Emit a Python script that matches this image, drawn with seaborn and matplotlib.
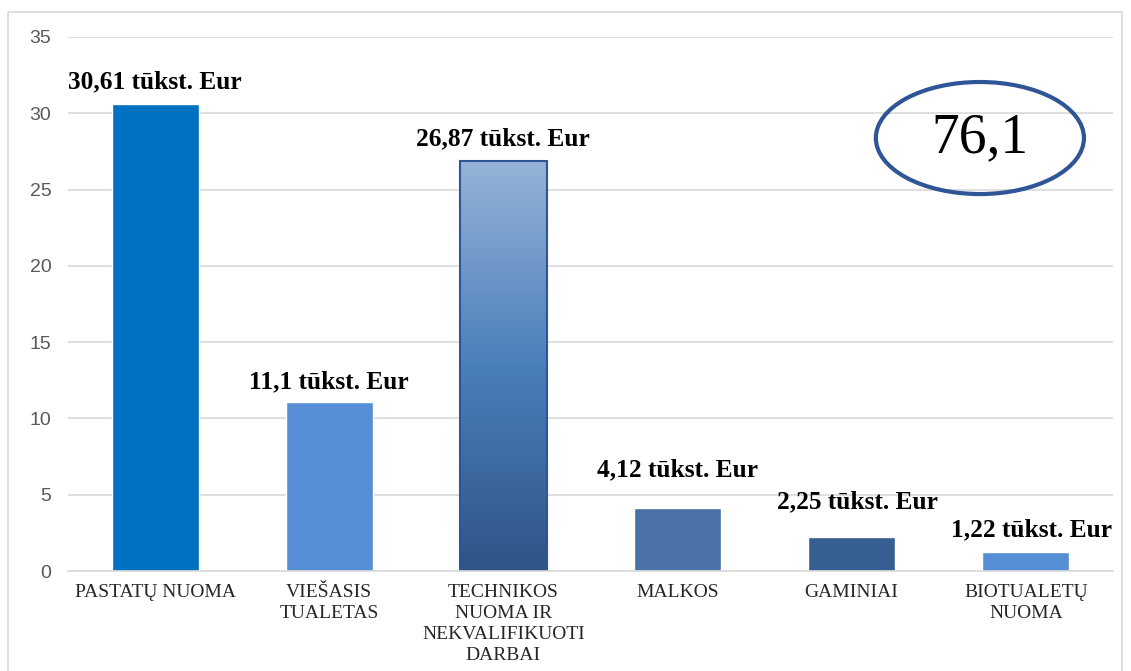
import matplotlib
matplotlib.use("Agg")
import matplotlib.pyplot as plt
import seaborn as sns
import numpy as np
from matplotlib.patches import Ellipse, Rectangle
import matplotlib.colors as mcolors

categories = ["PASTATŲ NUOMA", "VIEŠASIS\nTUALETAS", "TECHNIKOS\nNUOMA IR\nNEKVALIFIKUOTI\nDARBAI",
              "MALKOS", "GAMINIAI", "BIOTUALETŲ\nNUOMA"]
values = [30.61, 11.1, 26.87, 4.12, 2.25, 1.22]
value_labels = ["30,61 tūkst. Eur", "11,1 tūkst. Eur", "26,87 tūkst. Eur",
                "4,12 tūkst. Eur", "2,25 tūkst. Eur", "1,22 tūkst. Eur"]
total_label = "76,1"
yticks = [0, 5, 10, 15, 20, 25, 30, 35]

bar_colors = ["#0070C0", "#558ED5", "#4F81BD", "#4A72A6", "#355F91", "#558ED5"]

sns.set_theme(style="white")
plt.rcParams['font.family'] = ['Liberation Sans', 'DejaVu Sans']

fig = plt.figure(figsize=(11.31, 6.71), dpi=100)
ax = fig.add_axes([0.0601, 0.149, 0.9239, 0.7959])

sns.barplot(x=categories, y=values, hue=categories, palette=bar_colors,
            legend=False, width=0.5, ax=ax, saturation=1)

ax.set_xlim(-0.5, len(categories) - 0.5)
ax.set_ylim(0, 35)
ax.set_yticks(yticks)
ax.set_yticklabels([str(t) for t in yticks], color="#595959", fontsize=14)
ax.tick_params(axis='y', length=0, pad=12)
ax.tick_params(axis='x', length=0, pad=9)
for lbl in ax.get_xticklabels():
    lbl.set_fontfamily(['Liberation Serif'])
    lbl.set_fontsize(14)
    lbl.set_color("#262626")
    lbl.set_linespacing(1.32)
    lbl.set_verticalalignment('top')

ax.grid(axis='y', color="#D9D9D9", linewidth=1.2)
ax.set_axisbelow(True)
for s in ['left', 'right', 'top']:
    ax.spines[s].set_visible(False)
ax.spines['bottom'].set_color("#D9D9D9")
ax.spines['bottom'].set_linewidth(1.2)
ax.set_xlabel("")
ax.set_ylabel("")

# Gradient for the third bar
patches = [p for p in ax.patches]
gp = patches[2]
x0, w = gp.get_x(), gp.get_width()
h = gp.get_height()
cmap = mcolors.LinearSegmentedColormap.from_list("g", ["#2F5486", "#4A7EBB", "#95B3D7"])
grad = np.linspace(0, 1, 256).reshape(-1, 1)
im = ax.imshow(grad, extent=(x0, x0 + w, 0, h), origin='lower', cmap=cmap,
               aspect='auto', zorder=gp.get_zorder() + 0.1)
im.set_clip_path(gp)
edge = Rectangle((x0, 0), w, h, fill=False, edgecolor="#2F5597", linewidth=1.5,
                 zorder=gp.get_zorder() + 0.2)
ax.add_patch(edge)
ax.set_xlim(-0.5, len(categories) - 0.5)
ax.set_ylim(0, 35)

# Value labels (vertical gap above each bar, in points, as in the original layout)
label_gaps = [8, 6, 8, 19, 17, 8]
label_dx = [0, 0, 0, 0, 4, 4]
for i, (v, t) in enumerate(zip(values, value_labels)):
    ax.annotate(t, (i, v), xytext=(label_dx[i], label_gaps[i]), textcoords='offset points',
                ha='center', va='bottom', fontsize=18.3, fontweight='bold',
                family=['Liberation Serif'], color="#000000")

# Total ellipse
ell = Ellipse((0.8664, 0.7943), 0.184, 0.167, transform=fig.transFigure,
              fill=False, edgecolor="#2F5597", linewidth=3)
fig.add_artist(ell)
fig.text(0.8664, 0.7943, total_label, ha='center', va='center', fontsize=40,
         family=['Liberation Serif'], color="#000000")

# Chart border
border = Rectangle((8 / 1131, -0.05), (1122 - 8) / 1131, 1.05 - 12 / 671,
                   transform=fig.transFigure, fill=False, edgecolor="#D9D9D9", linewidth=1.2)
fig.add_artist(border)

fig.savefig("out.png", dpi=100)
